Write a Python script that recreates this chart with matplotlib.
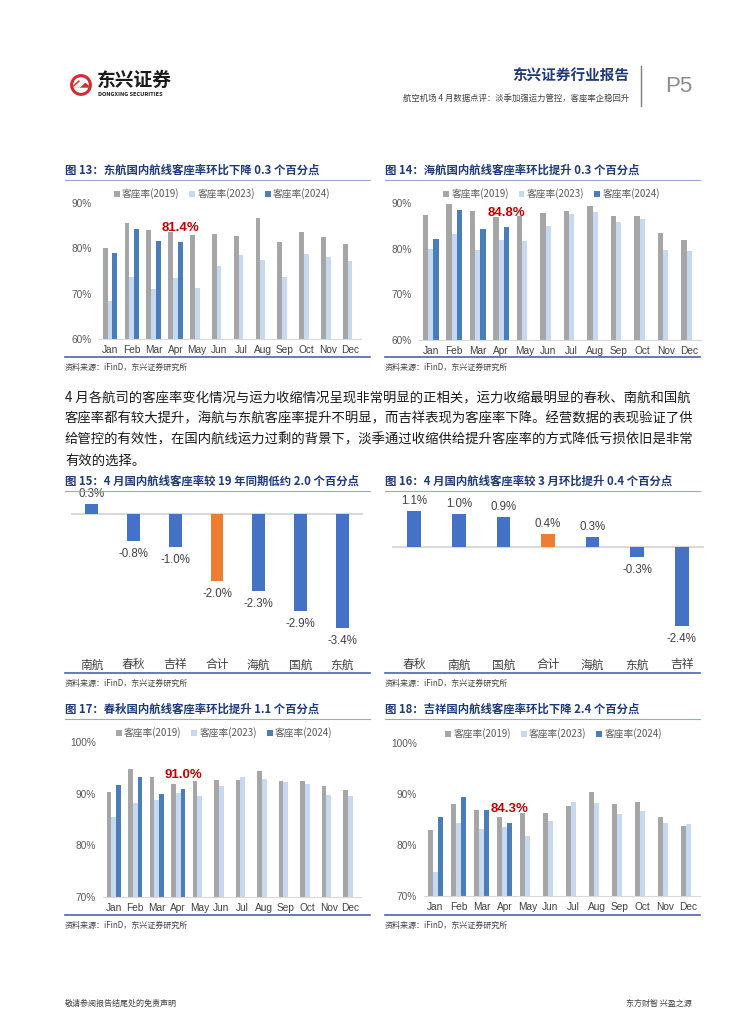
import numpy as np
import matplotlib
matplotlib.use("Agg")
from matplotlib import pyplot as plt
from matplotlib.lines import Line2D
from matplotlib.patches import Circle, Polygon

plt.rcParams["font.family"] = ["Noto Sans CJK SC", "DejaVu Sans"]
LATIN = ["Liberation Sans", "Noto Sans CJK SC"]

W, H = 755, 1024

months = ["Jan", "Feb", "Mar", "Apr", "May", "Jun", "Jul", "Aug", "Sep", "Oct", "Nov", "Dec"]
series_names = ["客座率(2019)", "客座率(2023)", "客座率(2024)"]

# fig 13: China Eastern
mu_2019 = [80.0, 85.5, 84.0, 83.6, 82.9, 83.1, 82.7, 86.6, 81.3, 83.6, 82.5, 80.9]
mu_2023 = [68.3, 73.6, 71.0, 73.4, 71.3, 76.2, 78.5, 77.4, 73.7, 78.8, 78.1, 77.2]
mu_2024 = [78.9, 84.2, 81.6, 81.4]

# fig 14: Hainan
hu_2019 = [87.3, 89.7, 88.3, 87.0, 87.1, 87.8, 88.2, 89.3, 87.1, 87.1, 83.5, 81.8]
hu_2023 = [79.9, 83.2, 79.7, 81.8, 81.6, 85.0, 87.7, 88.0, 85.8, 86.5, 79.7, 79.4]
hu_2024 = [82.2, 88.5, 84.3, 84.8]

# fig 17: Spring
cq_2019 = [90.4, 94.8, 93.2, 91.8, 92.5, 92.7, 92.7, 94.4, 92.4, 92.5, 91.4, 90.7]
cq_2023 = [85.5, 88.1, 88.8, 90.2, 89.6, 91.4, 93.2, 92.8, 92.2, 91.8, 89.7, 89.6]
cq_2024 = [91.6, 93.3, 90.0, 91.0]

# fig 18: Juneyao
ho_2019 = [82.9, 88.1, 86.9, 85.4, 86.3, 86.2, 87.7, 90.4, 88.1, 88.5, 85.4, 83.7]
ho_2023 = [74.7, 84.4, 83.1, 83.5, 81.7, 84.7, 88.4, 88.3, 86.0, 86.7, 84.4, 84.1]
ho_2024 = [85.5, 89.4, 86.8, 84.3]

# fig 15 / 16
vs19_airlines = ["南航", "春秋", "吉祥", "合计", "海航", "国航", "东航"]
vs19_change = [0.3, -0.8, -1.0, -2.0, -2.3, -2.9, -3.4]
mom_airlines = ["春秋", "南航", "国航", "合计", "海航", "东航", "吉祥"]
mom_change = [1.1, 1.0, 0.9, 0.4, 0.3, -0.3, -2.4]

body_lines = [
    "4 月各航司的客座率变化情况与运力收缩情况呈现非常明显的正相关，运力收缩最明显的春秋、南航和国航",
    "客座率都有较大提升，海航与东航客座率提升不明显，而吉祥表现为客座率下降。经营数据的表现验证了供",
    "给管控的有效性，在国内航线运力过剩的背景下，淡季通过收缩供给提升客座率的方式降低亏损依旧是非常",
    "有效的选择。",
]

C19, C23, C24 = "#a6a6a6", "#c6d9f1", "#4a7ebb"
BAR, ORANGE = "#4472c4", "#ed7d31"
TITLE_C = "#1f3a78"
GRAY_T = "#595959"

fig = plt.figure(figsize=(W / 100, H / 100), dpi=100)


def rect(x0, y0, x1, y1):
    return [x0 / W, 1 - y1 / H, (x1 - x0) / W, (y1 - y0) / H]


def ftext(x, y, s, **kw):
    fig.text(x / W, 1 - y / H, s, **kw)


def hline(x0, x1, y, color, lw):
    fig.add_artist(Line2D([x0 / W, x1 / W], [1 - y / H, 1 - y / H], color=color, lw=lw))


def frame(x0, x1, title, ytitle, ybottom):
    ftext(x0, ytitle, title, fontsize=8.2, fontweight="bold", color=TITLE_C, va="center")
    hline(x0, x1, ytitle + 10, "#9aa8cf", 0.8)
    hline(x0, x1, ybottom, "#4f63a8", 1.2)
    ftext(x0, ybottom + 10, "资料来源：iFinD，东兴证券研究所", fontsize=5.8, color="#404040",
          va="center")


def grouped(r, ylim, yticks, d19, d23, d24):
    ax = fig.add_axes(r)
    x = np.arange(len(months))
    w = 0.22
    ax.bar(x - w, d19, w, color=C19, label=series_names[0])
    ax.bar(x, d23, w, color=C23, label=series_names[1])
    x24 = np.arange(len(d24)) + w
    ax.bar(x24, d24, w, color=C24, label=series_names[2])
    ax.set_xlim(-0.5, 11.5)
    ax.set_ylim(*ylim)
    ax.set_yticks(yticks)
    ax.set_yticklabels([f"{t}%" for t in yticks], family=LATIN)
    ax.set_xticks(x)
    ax.set_xticklabels(months, family=LATIN)
    ax.tick_params(axis="y", length=0, labelsize=7.3, labelcolor=GRAY_T, pad=5)
    ax.tick_params(axis="x", length=0, labelsize=7.3, labelcolor="#404040", pad=4)
    for s in ["top", "right", "left"]:
        ax.spines[s].set_visible(False)
    ax.spines["bottom"].set_color("#d9d9d9")
    ax.annotate(f"{d24[-1]:.1f}%", (x24[-1], d24[-1]), xytext=(0, 5.5),
                textcoords="offset points", ha="center", va="bottom",
                fontsize=9.5, fontweight="bold", color="#c00000", family=LATIN)
    leg = ax.legend(ncol=3, loc="center", bbox_to_anchor=(0.47, 1.0 + 9 / (r[3] * H)),
                    frameon=False, fontsize=7, handlelength=0.6, handleheight=0.6,
                    handletextpad=0.25, columnspacing=1.0, borderpad=0)
    for t in leg.get_texts():
        t.set_color(GRAY_T)
    return ax


def diverging(r, ylim, names, vals):
    ax = fig.add_axes(r)
    x = np.arange(len(names))
    colors = [ORANGE if n == "合计" else BAR for n in names]
    ax.bar(x, vals, 0.31, color=colors)
    ax.axhline(0, color="#d9d9d9", lw=1.5, zorder=0)
    ax.set_xlim(-0.5, len(names) - 0.5)
    ax.set_ylim(*ylim)
    for xi, v in zip(x, vals):
        ax.annotate(f"{v:.1f}%", (xi, v), xytext=(0, 3 if v > 0 else -5),
                    textcoords="offset points", ha="center",
                    va="bottom" if v > 0 else "top", fontsize=8.3, color="#404040",
                    family=LATIN)
    ax.set_xticks(x)
    ax.set_xticklabels(names)
    ax.set_yticks([])
    ax.tick_params(axis="x", length=0, labelsize=8.5, labelcolor="#404040", pad=6)
    for s in ax.spines.values():
        s.set_visible(False)
    return ax


# header
lax = fig.add_axes(rect(67, 73, 95, 97))
lax.set_xlim(-1.1, 1.1)
lax.set_ylim(-1.1, 1.1)
lax.set_aspect("equal")
lax.axis("off")
lax.add_patch(Circle((0, 0), 1.0, fc="#d52b2f", ec="none"))
lax.add_patch(Circle((0, 0), 0.72, fc="white", ec="none"))
lax.add_patch(Polygon([(-0.72, -0.05), (-0.2, 0.45), (0.1, 0.15), (0.3, 0.3), (0.72, -0.05),
                       (0.72, -0.25), (-0.72, -0.25)], fc="#d52b2f", ec="none"))
for k in range(4):
    lax.plot([-0.6 + 0.15 * k, 0.0 + 0.15 * k], [-0.2, 0.35], color="white", lw=1.0)
ftext(97, 80, "东兴证券", fontsize=13.5, fontweight="bold", color="#1a1a1a", va="center")
ftext(98, 95, "DONGXING SECURITIES", fontsize=4.1, fontweight="bold", color="#1a1a1a", va="center")
ftext(629, 76, "东兴证券行业报告", fontsize=10.5, fontweight="bold", color=TITLE_C, va="center", ha="right")
ftext(629, 98, "航空机场 4 月数据点评：淡季加强运力管控，客座率企稳回升", fontsize=6, color="#404040",
      va="center", ha="right")
fig.add_artist(Line2D([641 / W, 641 / W], [1 - 66 / H, 1 - 106 / H], color="#7f7f7f", lw=1))
ftext(679, 86, "P5", fontsize=16, color="#8c8c8c", va="center", ha="center", family=LATIN)

# charts 13 / 14
frame(65, 370, "图 13：东航国内航线客座率环比下降 0.3 个百分点", 170, 357)
frame(385, 700, "图 14：海航国内航线客座率环比提升 0.3 个百分点", 170, 357)
grouped(rect(99, 203, 361, 339), (60, 90), [60, 70, 80, 90], mu_2019, mu_2023, mu_2024)
grouped(rect(419, 203, 701, 340), (60, 90), [60, 70, 80, 90], hu_2019, hu_2023, hu_2024)

# body text
for i, line in enumerate(body_lines):
    ftext(65, 397 + 21.3 * i, line, fontsize=9.6, color="#1a1a1a", va="center")

# charts 15 / 16
frame(65, 370, "图 15：4 月国内航线客座率较 19 年同期低约 2.0 个百分点", 481, 673)
frame(385, 700, "图 16：4 月国内航线客座率较 3 月环比提升 0.4 个百分点", 481, 673)
diverging(rect(71, 497, 363, 650), (-4.05, 0.5), vs19_airlines, vs19_change)
diverging(rect(392, 497, 704, 650), (-3.12, 1.515), mom_airlines, mom_change)

# charts 17 / 18
frame(65, 370, "图 17：春秋国内航线客座率环比提升 1.1 个百分点", 709, 915)
frame(385, 700, "图 18：吉祥国内航线客座率环比下降 2.4 个百分点", 709, 915)
grouped(rect(103, 742, 361, 897), (70, 100), [70, 80, 90, 100], cq_2019, cq_2023, cq_2024)
grouped(rect(424, 743, 700, 896), (70, 100), [70, 80, 90, 100], ho_2019, ho_2023, ho_2024)

# footer
ftext(65, 1003, "敬请参阅报告结尾处的免责声明", fontsize=5.8, color="#404040", va="center")
ftext(692, 1003, "东方财智 兴盈之源", fontsize=5.8, color="#404040", va="center", ha="right")

fig.savefig("out.png", dpi=100, facecolor="white")
